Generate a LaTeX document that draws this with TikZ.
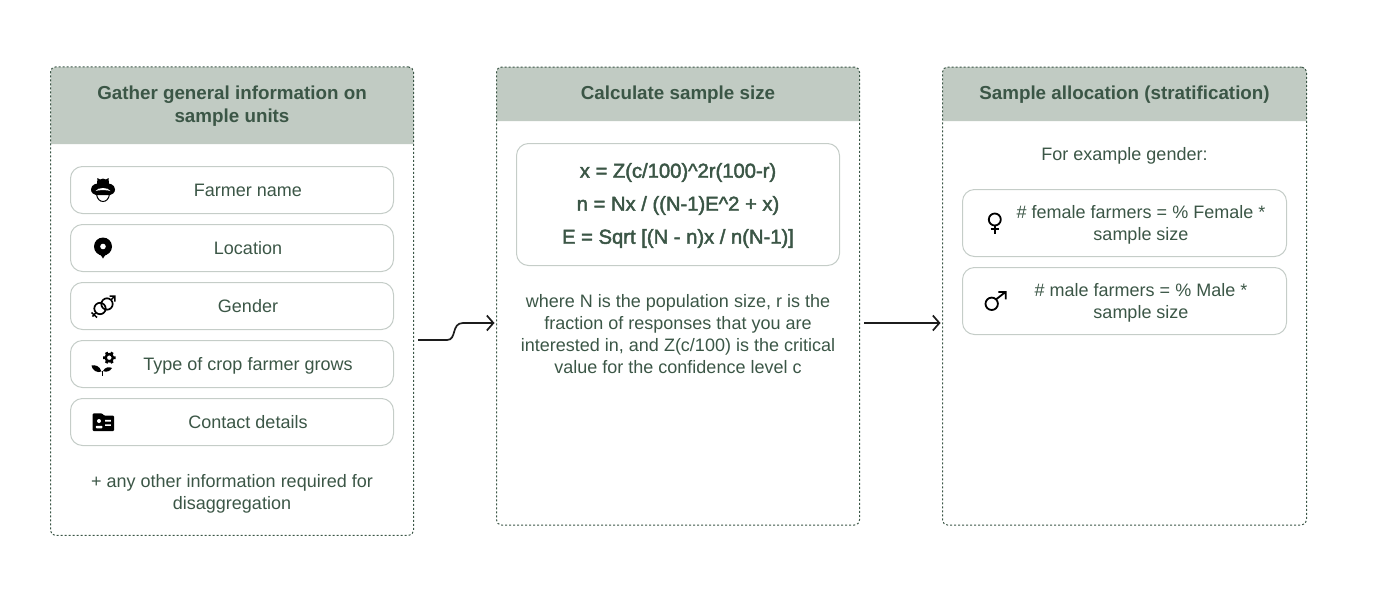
\documentclass[tikz,border=0pt]{standalone}
\usepackage{fontspec}
\setmainfont{Liberation Sans}
\newfontfamily\mediumfont[FakeBold=2.2]{Liberation Sans}
\usetikzlibrary{arrows.meta}
\definecolor{leaf}{HTML}{3B5646}
\definecolor{sage}{HTML}{C1CBC3}
\definecolor{edge}{HTML}{C5CDC8}
\definecolor{ink}{HTML}{1C1C1C}
\tikzset{
panel/.style={draw=leaf,line width=1pt,dash pattern=on 2pt off 2pt,rounded corners=5pt,inner sep=0pt,minimum width=363pt},
rowbox/.style={draw=edge,line width=1pt,rounded corners=12pt,inner sep=0pt,minimum width=323pt,minimum height=47pt},
title/.style={text=leaf,font=\fontsize{18.8}{23}\selectfont\bfseries,align=center},
body/.style={text=leaf,font=\fontsize{18}{22}\selectfont,align=center},
formula/.style={text=leaf,font=\fontsize{20.2}{22}\selectfont\mediumfont},
link/.style={draw=ink,line width=1.7pt,-{Straight Barb[length=6.5pt,width=15pt,line width=1.7pt]}},
icon/.style={line width=1.7pt,draw=black},
}
\begin{document}
\begin{tikzpicture}[x=1pt,y=-1pt]
\useasboundingbox (0,0) rectangle (1375,597);
%headers
\fill[sage] (50.5,144) [rounded corners=5pt] -- (50.5,67) -- (413.5,67) [sharp corners] -- (413.5,144) -- cycle;
\fill[sage] (496.5,121) [rounded corners=5pt] -- (496.5,67) -- (859.5,67) [sharp corners] -- (859.5,121) -- cycle;
\fill[sage] (942.5,121) [rounded corners=5pt] -- (942.5,67) -- (1306.5,67) [sharp corners] -- (1306.5,121) -- cycle;
%panels
\path
(232,301.2) node[panel,minimum height=468.5pt] (gather) {}
(678,296) node[panel,minimum height=458pt] (calc) {}
(1124.5,296) node[panel,minimum height=458pt,minimum width=364pt] (alloc) {};
\path
(232,106) node[title] (gathertitle) {Gather general information on\\sample units}
(678,95) node[title] (calctitle) {Calculate sample size}
(1124.5,95) node[title] (alloctitle) {Sample allocation (stratification)};
%first panel
\path
(232,190) node[rowbox] (rowname) {}
(232,248) node[rowbox] (rowloc) {}
(232,306) node[rowbox] (rowgender) {}
(232,364) node[rowbox] (rowcrop) {}
(232,422) node[rowbox] (rowcontact) {}
(248,190.5) node[body] (name) {Farmer name}
(248,248) node[body] (loc) {Location}
(248,306) node[body] (gender) {Gender}
(248,366) node[body] (crop) {Type of crop farmer grows}
(248,422) node[body] (contact) {Contact details}
(232,494) node[body] (other) {+ any other information required for\\disaggregation};
%second panel
\path
(678,204.5) node[rowbox,minimum height=122pt] (formulas) {}
(678,172.5) node[formula] (fx) {x = Z(c/100)\textasciicircum 2r(100-r)}
(678,205.5) node[formula] (fn) {n = Nx / ((N-1)E\textasciicircum 2 + x)}
(678,238.5) node[formula] (fe) {E = Sqrt [(N - n)x / n(N-1)]}
(678,334) node[body] (where) {where N is the population size, r is the\\fraction of responses that you are\\interested in, and Z(c/100) is the critical\\value for the confidence level c};
%third panel
\path
(1124.5,156) node[body] (example) {For example gender:}
(1124.5,223) node[rowbox,minimum width=324pt,minimum height=67pt] (rowfemale) {}
(1124.5,301) node[rowbox,minimum width=324pt,minimum height=67pt] (rowmale) {}
(1141,225) node[body] (female) {\# female farmers = \% Female *\\sample size}
(1141,303) node[body] (male) {\# male farmers = \% Male *\\sample size};
%connectors
\coordinate (linkAs) at (418,340);
\coordinate (linkAe) at (494.5,323);
\coordinate (linkBs) at (864,323);
\coordinate (linkBe) at (940.5,323);
\draw[link] (linkAs) -- (447,340) .. controls (457,340) and (451,323) .. (463,323) -- (linkAe);
\draw[link] (linkBs) -- (linkBe);
%hat
\fill (97,184) -- (97.5,178) -- (100,179.5) -- (103,178.5) -- (106,179.5) -- (108.5,178) -- (109,184) -- cycle;
\fill (91,189.5) .. controls (91,184) and (97,183) .. (103,183) .. controls (109,183) and (115,184) .. (115,189.5) .. controls (115,193) and (112,194.5) .. (110,195) -- (96,195) .. controls (94,194.5) and (91,193) .. (91,189.5) -- cycle;
\fill[white] (95.5,191) .. controls (98,187) and (108,187) .. (110.5,191) .. controls (108,189.8) and (98,189.8) .. (95.5,191) -- cycle;
\draw[line width=1pt] (96.5,194) .. controls (97,199) and (100,201.5) .. (103,201.5) .. controls (106,201.5) and (109,199) .. (109.5,194);
%pin
\fill (103,246.5) circle[radius=9];
\fill (94.6,249.5) .. controls (96.5,253) and (101.5,254.5) .. (103,258.5) .. controls (104.5,254.5) and (109.5,253) .. (111.4,249.5) -- cycle;
\fill[white] (103,246.5) circle[radius=2.8];
%gender
\draw[icon] (100,308.5) circle[radius=5.7];
\draw[icon] (107,304) circle[radius=5.7];
\draw[icon,line width=1.5pt] (111,300) -- (114.5,296.2) (109.5,296) -- (114.8,296) -- (114.8,301.5);
\draw[icon,line width=1.5pt] (96,312.5) -- (92.5,316.5) (91.5,312.5) -- (97,317.5);
%crop
\draw[line width=2.4pt] (109.3,357.7) circle[radius=3.6];
\foreach \a in {0,60,...,300}
  \fill (109.3,357.7) ++(\a:3.8) -- ++(\a+90:1.4) -- ++(\a:2.4) -- ++(\a-90:2.8) -- ++(\a:-2.4) -- cycle;
\fill (101.5,371.5) .. controls (100,366) and (95,364.5) .. (91.5,365.5) .. controls (92,370) and (97,373.5) .. (101.5,371.5) -- cycle;
\fill (103,371) .. controls (105,367) and (109,366.5) .. (112,368) .. controls (110,371.5) and (106,372.5) .. (103,371) -- cycle;
\draw[line width=1pt] (102.2,371) -- (102.2,375.5);
%contact
\fill[rounded corners=1pt] (92.7,431) -- (92.7,413.3) -- (102,413.3) -- (104,415.6) -- (114,415.6) -- (114,431) -- cycle;
\fill[white] (99,421) circle[radius=2];
\fill[white,rounded corners=.8pt] (95.8,428.3) -- (95.8,425.8) -- (102.4,425.8) -- (102.4,428.3) -- cycle;
\fill[white] (105,419.9) rectangle (110.8,421.5) (105,424.3) rectangle (110.8,425.9);
%female
\draw[icon,line width=1.8pt] (994.8,219.5) circle[radius=6];
\draw[icon,line width=1.8pt] (994.8,225.5) -- (994.8,233.5) (990.5,229.3) -- (999.2,229.3);
%male
\draw[icon,line width=1.8pt] (991.7,303.8) circle[radius=6.2];
\draw[icon,line width=1.8pt] (996,299.4) -- (1005.2,292.2) (998.3,292) -- (1005.7,292) -- (1005.7,299.3);
\end{tikzpicture}
\end{document}
